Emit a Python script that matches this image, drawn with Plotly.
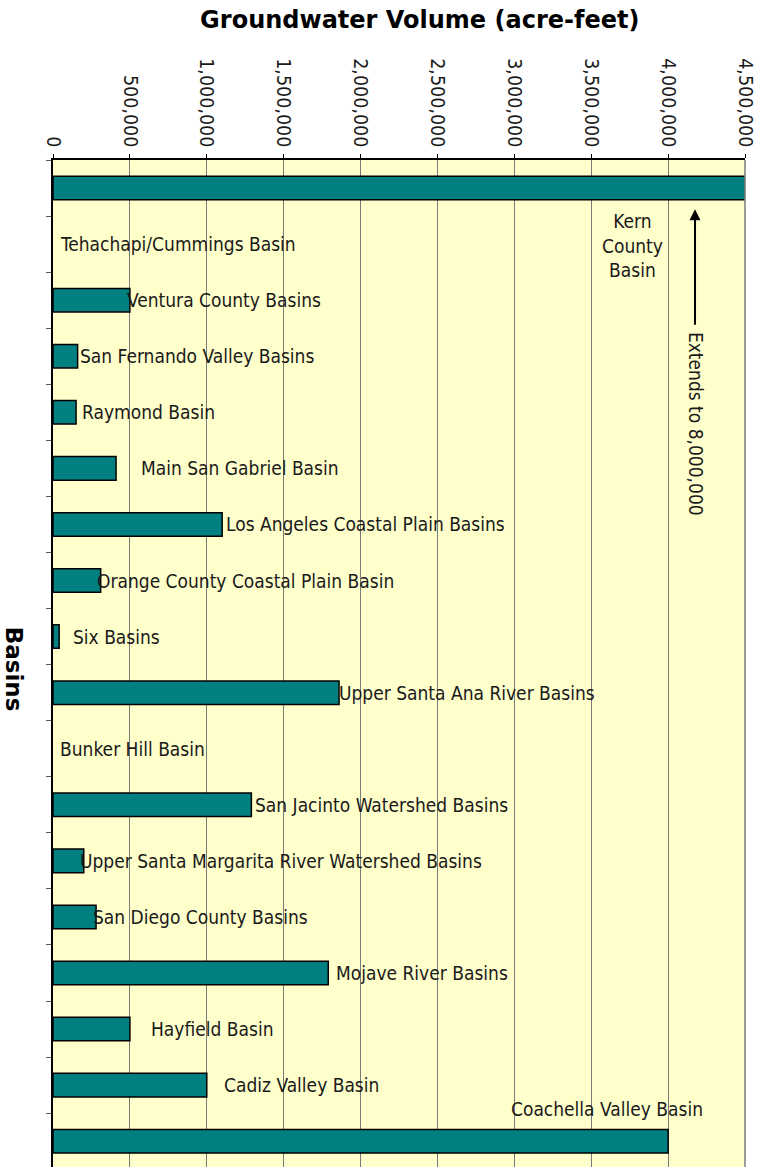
import plotly.graph_objects as go

# Basins, listed top to bottom
basins = [
    "Kern County Basin",
    "Tehachapi/Cummings Basin",
    "Ventura County Basins",
    "San Fernando Valley Basins",
    "Raymond Basin",
    "Main San Gabriel Basin",
    "Los Angeles Coastal Plain Basins",
    "Orange County Coastal Plain Basin",
    "Six Basins",
    "Upper Santa Ana River Basins",
    "Bunker Hill Basin",
    "San Jacinto Watershed Basins",
    "Upper Santa Margarita River Watershed Basins",
    "San Diego County Basins",
    "Mojave River Basins",
    "Hayfield Basin",
    "Cadiz Valley Basin",
    "Coachella Valley Basin",
]

# Groundwater volume in acre-feet
volume = [
    8000000,
    0,
    500000,
    160000,
    150000,
    410000,
    1100000,
    310000,
    40000,
    1860000,
    0,
    1290000,
    200000,
    280000,
    1790000,
    500000,
    1000000,
    4000000,
]

x_max = 4500000
x_tick_step = 500000

# horizontal pixel offsets of each label from the end of its bar
label_shift = [0, 5, -5, 0, 4, 23, 2, -6, 12, -2, 5, 2, -6, -5, 6, 19, 15, 0]

FONT = "DejaVu Sans Condensed, Tahoma, DejaVu Sans, sans-serif"
BOLD_FONT = "DejaVu Sans, Tahoma, sans-serif"
TEXT = "#1a1a1a"
TEAL = "#008080"
GRID = "#7a7a7a"
LABEL_SIZE = 19

fig = go.Figure()
fig.add_trace(go.Bar(
    x=volume,
    y=basins,
    orientation="h",
    width=0.42,
    marker=dict(
        color=TEAL,
        line=dict(color="black", width=[1.5 if v > 0 else 0 for v in volume]),
    ),
    hoverinfo="x+y",
))

annotations = []
for i, (name, val) in enumerate(zip(basins, volume)):
    if name in ("Kern County Basin", "Coachella Valley Basin"):
        continue
    annotations.append(dict(
        x=min(val, x_max), y=name, xref="x", yref="y",
        text=name, showarrow=False, xanchor="left", yanchor="middle",
        xshift=label_shift[i], font=dict(family=FONT, size=LABEL_SIZE, color=TEXT),
    ))

# Coachella label sits above its bar
annotations.append(dict(
    x=volume[-1], y=basins[-1], xref="x", yref="y",
    text=basins[-1], showarrow=False, xanchor="right", yanchor="middle",
    xshift=37, yshift=32, font=dict(family=FONT, size=LABEL_SIZE, color=TEXT),
))

# Kern County label under its clipped bar
annotations.append(dict(
    x=3770000, y=basins[1], xref="x", yref="y",
    text="Kern<br>County<br>Basin", showarrow=False, xanchor="center", yanchor="middle",
    align="center", yshift=-1, font=dict(family=FONT, size=LABEL_SIZE, color=TEXT),
))

# arrow pointing back up to the Kern bar
annotations.append(dict(
    x=4175000, y=0.38, xref="x", yref="y",
    text="", showarrow=True, ax=0, ay=117, axref="pixel", ayref="pixel",
    arrowhead=2, arrowsize=1.1, arrowwidth=2, arrowcolor="black",
))
annotations.append(dict(
    x=4185000, y=4.2, xref="x", yref="y",
    text="Extends to " + f"{volume[0]:,}", textangle=90, showarrow=False,
    xanchor="center", yanchor="middle",
    font=dict(family=FONT, size=LABEL_SIZE, color=TEXT),
))

# y-axis title, reading downward
annotations.append(dict(
    x=-0.056, y=0.4946, xref="paper", yref="paper",
    text="<b>Basins</b>", textangle=90, showarrow=False,
    xanchor="center", yanchor="middle",
    font=dict(family=BOLD_FONT, size=23, color="black"),
))

fig.update_layout(
    width=766, height=1167,
    margin=dict(l=53, r=21, t=160, b=0),
    paper_bgcolor="white",
    plot_bgcolor="#FFFFCC",
    showlegend=False,
    title=dict(
        text="<b>Groundwater Volume (acre-feet)</b>",
        x=0.548, xref="container", xanchor="center",
        y=0.983, yref="container", yanchor="middle",
        font=dict(family=BOLD_FONT, size=24, color="black"),
    ),
    annotations=annotations,
    bargap=0.58,
)

fig.update_xaxes(
    side="top", range=[0, x_max], dtick=x_tick_step, tick0=0,
    tickformat=",", tickangle=90,
    tickfont=dict(family=FONT, size=19.5, color=TEXT),
    ticks="outside", ticklen=4, tickcolor="black",
    showgrid=True, gridcolor=GRID, gridwidth=1,
    showline=True, linecolor="black", linewidth=1.5,
    zeroline=False, fixedrange=True,
)

fig.update_yaxes(
    categoryorder="array", categoryarray=basins,
    range=[17.46, -0.5], autorange=False,
    showticklabels=False,
    ticks="outside", tickson="boundaries", ticklen=5, tickcolor="#555555",
    showgrid=False,
    showline=True, linecolor="black", linewidth=1.5,
    zeroline=False, fixedrange=True,
)

# right-hand edge of the plotting area
fig.add_shape(type="line", xref="x domain", yref="y domain",
              x0=1, x1=1, y0=0, y1=1, line=dict(color=GRID, width=1.5))

fig.write_html("out.html")
